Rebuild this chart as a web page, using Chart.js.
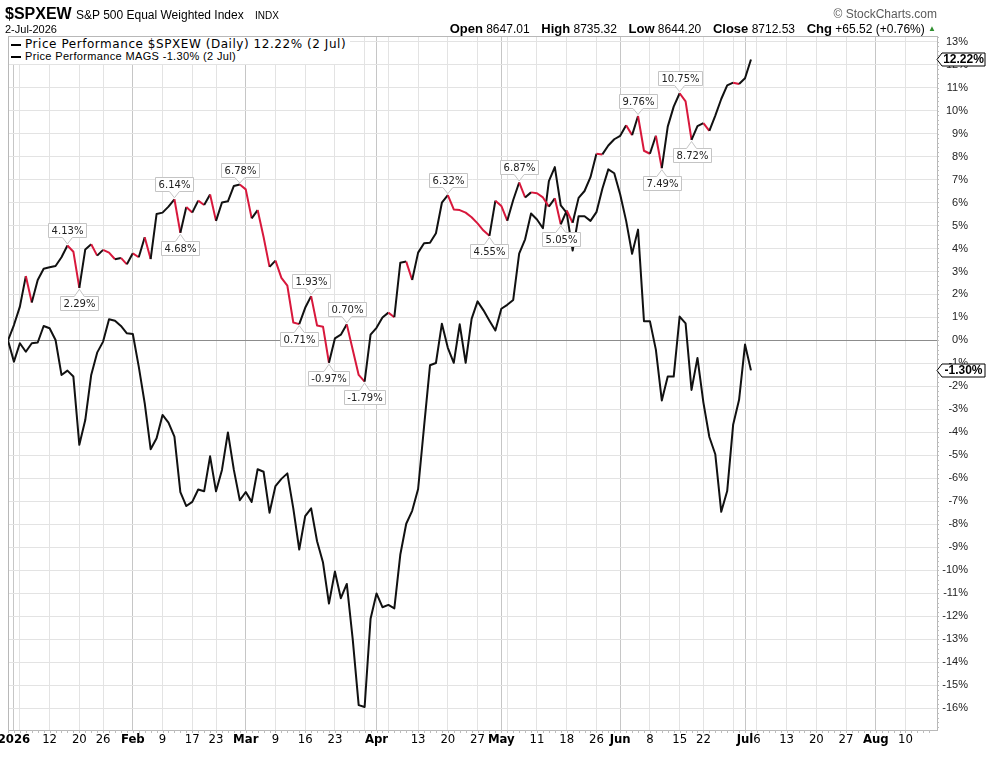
<!DOCTYPE html>
<html lang="en">
  <head>
    <meta charset="utf-8" />
    <title>$SPXEW Price Performance</title>
    <script src="https://cdn.jsdelivr.net/npm/chart.js@4"></script>
    <style>
      body { margin: 0; background: #ffffff; }
      #wrap {
        position: relative;
        width: 988px;
        height: 757px;
        font-family: "Liberation Sans", Arial, sans-serif;
        color: #000;
      }
      #wrap canvas { position: absolute; left: 0; top: 0; }
      .txt { position: absolute; white-space: nowrap; line-height: 1; }
      #symbol { left: 5px; top: 6px; font-size: 16px; font-weight: bold; }
      #name { left: 76px; top: 9px; font-size: 12px; }
      #exch { left: 255px; top: 11px; font-size: 10px; }
      #date { left: 5px; top: 24px; font-size: 11px; }
      #quote { right: 52px; top: 22px; font-size: 12px; }
      #quote b { font-size: 13px; margin-left: 5px; }
      #quote b:first-child { margin-left: 0; }
      #quote .up { color: #2f8f2f; font-size: 8px; vertical-align: 2px; }
      #copy { right: 51px; top: 8px; font-size: 12px; color: #5a5a5a; }
      #legend {
        position: absolute;
        left: 9px;
        top: 37px;
        background: #fff;
        padding: 1px 4px 2px 1px;
      }
      #legend div { white-space: nowrap; line-height: 12px; }
      #legend .dash {
        display: inline-block;
        width: 10px;
        height: 2px;
        background: #000;
        vertical-align: middle;
        margin: 0 4px 0 1px;
      }
      #leg1 { font-family: "DejaVu Sans", Verdana, sans-serif; font-size: 12px; letter-spacing: 0.55px; }
      #leg2 { font-size: 11px; letter-spacing: 0.35px; }
    </style>
  </head>
  <body>
    <div id="wrap">
      <canvas id="perfChart" width="988" height="757"></canvas>
      <div class="txt" id="symbol">$SPXEW</div>
      <div class="txt" id="name">S&amp;P 500 Equal Weighted Index</div>
      <div class="txt" id="exch">INDX</div>
      <div class="txt" id="date">2-Jul-2026</div>
      <div class="txt" id="copy">&copy; StockCharts.com</div>
      <div class="txt" id="quote">
        <b>Open</b> 8647.01 &nbsp;<b>High</b> 8735.32 &nbsp;<b>Low</b> 8644.20 &nbsp;<b>Close</b> 8712.53 &nbsp;<b>Chg</b> +65.52 (+0.76%) <span class="up">&#9650;</span>
      </div>
      <div id="legend">
        <div id="leg1"><span class="dash"></span><span id="leg1txt"></span></div>
        <div id="leg2"><span class="dash"></span><span id="leg2txt"></span></div>
      </div>
    </div>

    <script>
      // market holidays, used to build the trading-day calendar (Dec 31 = day 0)
      const holidays = [
        "2026-01-01", "2026-01-19", "2026-02-16", "2026-04-03",
        "2026-05-25", "2026-06-19", "2026-07-03",
      ];

      // % performance since 31-Dec-2025, one value per trading day up to 2-Jul
      const spxew = [
        0, 0.67, 1.47, 2.80, 1.65, 2.63, 3.12, 3.18, 3.24, 3.62,
        4.13, 3.86, 2.29, 3.96, 4.18, 3.69, 3.94, 3.82, 3.53, 3.59,
        3.31, 3.79, 3.62, 4.49, 3.54, 5.50, 5.56, 5.82, 6.14, 4.68,
        5.80, 5.56, 6.08, 5.89, 6.35, 5.20, 6.00, 6.05, 6.72, 6.78,
        6.57, 5.31, 5.67, 4.50, 3.20, 3.47, 2.72, 2.38, 0.78, 0.71,
        1.42, 1.93, 0.65, 0.60, -0.97, 0.09, 0.25, 0.70, -0.40, -1.50,
        -1.79, 0.25, 0.55, 1.00, 1.21, 1.01, 3.38, 3.43, 2.63, 3.82,
        4.23, 4.25, 4.66, 5.99, 6.32, 5.70, 5.67, 5.56, 5.36, 5.09,
        4.78, 4.55, 6.08, 5.85, 5.21, 6.11, 6.87, 6.22, 6.44, 6.40,
        6.22, 5.82, 6.18, 5.05, 5.65, 5.12, 6.20, 6.50, 7.10, 8.12,
        8.09, 8.48, 8.75, 8.90, 9.36, 8.93, 9.76, 8.25, 8.12, 8.90,
        7.49, 9.30, 10.17, 10.75, 10.40, 8.72, 9.32, 9.45, 9.11, 9.78,
        10.50, 11.09, 11.21, 11.15, 11.40, 12.22,
      ];
      const mags = [
        0, -0.92, -0.12, -0.49, -0.12, -0.09, 0.63, 0.53, 0.02, -1.50,
        -1.31, -1.57, -4.54, -3.46, -1.50, -0.53, -0.05, 0.92, 0.86, 0.63,
        0.31, 0.28, -1.14, -2.73, -4.73, -4.25, -3.24, -3.57, -4.18, -6.60,
        -7.20, -7.02, -6.48, -6.56, -5.04, -6.56, -5.63, -4.00, -5.63, -6.95,
        -6.59, -7.02, -5.60, -5.71, -7.49, -6.33, -6.02, -5.78, -7.30, -9.09,
        -7.64, -7.30, -8.73, -9.66, -11.44, -10.05, -11.21, -10.59, -13.00, -15.86,
        -15.94, -12.10, -11.00, -11.60, -11.50, -11.65, -9.32, -7.97, -7.41, -6.46,
        -3.75, -1.08, -0.98, 0.73, -0.32, -0.97, 0.70, -0.97, 0.94, 1.70,
        1.31, 0.86, 0.43, 1.38, 1.55, 1.76, 3.78, 4.40, 5.52, 5.26,
        4.88, 6.93, 7.54, 5.87, 5.55, 3.91, 5.40, 5.40, 5.20, 5.58,
        6.60, 7.44, 7.27, 6.35, 5.20, 3.77, 4.82, 0.84, 0.84, -0.40,
        -2.61, -1.57, -1.57, 1.04, 0.74, -2.15, -0.76, -2.70, -4.20, -4.95,
        -7.45, -6.55, -3.67, -2.58, -0.18, -1.30,
      ];

      // labelled swing points on the $SPXEW line (trading-day positions)
      const peakDays = [10, 28, 39, 51, 57, 74, 86, 106, 113];
      const troughDays = [12, 29, 49, 54, 60, 81, 93, 110, 115];

      // x-axis grid lines and their labels
      const gridDates = [
        "2026-01-02", "2026-01-05", "2026-01-12", "2026-01-20", "2026-01-26",
        "2026-02-02", "2026-02-09", "2026-02-17", "2026-02-23",
        "2026-03-02", "2026-03-09", "2026-03-16", "2026-03-23", "2026-03-30",
        "2026-04-01", "2026-04-06", "2026-04-13", "2026-04-20", "2026-04-27",
        "2026-05-01", "2026-05-04", "2026-05-11", "2026-05-18", "2026-05-26",
        "2026-06-01", "2026-06-08", "2026-06-15", "2026-06-22", "2026-06-29",
        "2026-07-01", "2026-07-06", "2026-07-13", "2026-07-20", "2026-07-27",
        "2026-08-03", "2026-08-10",
      ];
      const gridLabels = [
        "2026", "", "12", "20", "26",
        "Feb", "9", "17", "23",
        "Mar", "9", "16", "23", "",
        "Apr", "", "13", "20", "27",
        "May", "", "11", "18", "26",
        "Jun", "8", "15", "22", "",
        "Jul", "6", "13", "20", "27",
        "Aug", "10",
      ];
      const monthStarts = [
        "2026-01-02", "2026-02-02", "2026-03-02", "2026-04-01",
        "2026-05-01", "2026-06-01", "2026-07-01", "2026-08-03",
      ];
      const yTicks = [
        -16, -15, -14, -13, -12, -11, -10, -9, -8, -7, -6, -5, -4, -3, -2, -1,
        0, 1, 2, 3, 4, 5, 6, 7, 8, 9, 10, 11, 12, 13,
      ];

      // trading calendar
      const dates = [];
      for (
        let d = new Date(Date.UTC(2025, 11, 31));
        d <= new Date(Date.UTC(2026, 7, 14));
        d.setUTCDate(d.getUTCDate() + 1)
      ) {
        const iso = d.toISOString().slice(0, 10);
        const wd = d.getUTCDay();
        if (wd !== 0 && wd !== 6 && !holidays.includes(iso)) dates.push(iso);
      }
      const gridDays = gridDates.map((s) => dates.indexOf(s));
      const monthDays = monthStarts.map((s) => dates.indexOf(s));

      const downRed = "#d8183c";
      const lineBlack = "#111111";
      const gridLight = "#e3e3e3";
      const gridMonth = "#c6c6c6";
      const frameGray = "#b8b8b8";

      const last = (arr) => arr[arr.length - 1];
      document.getElementById("leg1txt").textContent =
        "Price Performance $SPXEW (Daily) " + last(spxew).toFixed(2) + "% (2 Jul)";
      document.getElementById("leg2txt").textContent =
        "Price Performance MAGS " + last(mags).toFixed(2) + "% (2 Jul)";

      function drawNote(ctx, x, y, text, above) {
        ctx.font = '10px "DejaVu Sans", Verdana, sans-serif';
        const w = Math.round(ctx.measureText(text).width) + 6;
        const h = 14;
        const gap = 8;
        const bx = Math.round(x - w / 2) + 0.5;
        const by = above ? Math.round(y - gap - h) + 0.5 : Math.round(y + gap) + 0.5;
        ctx.beginPath();
        if (above) {
          ctx.moveTo(bx, by);
          ctx.lineTo(bx + w, by);
          ctx.lineTo(bx + w, by + h);
          ctx.lineTo(x + 5, by + h);
          ctx.lineTo(x, y - 1.5);
          ctx.lineTo(x - 5, by + h);
          ctx.lineTo(bx, by + h);
        } else {
          ctx.moveTo(bx, by + h);
          ctx.lineTo(bx + w, by + h);
          ctx.lineTo(bx + w, by);
          ctx.lineTo(x + 5, by);
          ctx.lineTo(x, y + 1.5);
          ctx.lineTo(x - 5, by);
          ctx.lineTo(bx, by);
        }
        ctx.closePath();
        ctx.fillStyle = "#ffffff";
        ctx.fill();
        ctx.strokeStyle = "#c4c4c4";
        ctx.lineWidth = 1;
        ctx.stroke();
        ctx.fillStyle = "#222";
        ctx.textAlign = "center";
        ctx.textBaseline = "middle";
        ctx.fillText(text, bx + w / 2, by + h / 2 + 0.5);
      }

      function drawTag(ctx, x, y, text) {
        const h = 13;
        const w = 48;
        const nose = 5;
        y = Math.round(y) + 0.5;
        ctx.beginPath();
        ctx.moveTo(x, y);
        ctx.lineTo(x + nose, y - h / 2);
        ctx.lineTo(x + w, y - h / 2);
        ctx.lineTo(x + w, y + h / 2);
        ctx.lineTo(x + nose, y + h / 2);
        ctx.closePath();
        ctx.fillStyle = "#ffffff";
        ctx.fill();
        ctx.strokeStyle = "#000";
        ctx.lineWidth = 1;
        ctx.stroke();
        ctx.fillStyle = "#000";
        ctx.font = 'bold 12px "Liberation Sans", Arial, sans-serif';
        ctx.textAlign = "center";
        ctx.textBaseline = "middle";
        ctx.fillText(text, x + nose + (w - nose) / 2, y + 0.5);
      }

      const overlay = {
        id: "overlay",
        beforeDatasetsDraw(chart) {
          const { ctx, chartArea: a, scales } = chart;
          ctx.save();
          ctx.strokeStyle = frameGray;
          ctx.lineWidth = 1;
          ctx.strokeRect(Math.round(a.left) + 0.5, Math.round(a.top) + 0.5,
            Math.round(a.right - a.left), Math.round(a.bottom - a.top));
          // daily ticks under the date axis
          ctx.beginPath();
          dates.forEach((d, i) => {
            const px = Math.round(scales.x.getPixelForValue(i)) + 0.5;
            if (px < a.left || px > a.right) return;
            ctx.moveTo(px, a.bottom);
            ctx.lineTo(px, a.bottom + 3);
          });
          // minor ticks on the price axis
          for (let v = -16.8; v <= 13.2; v += 0.2) {
            const py = Math.round(scales.y.getPixelForValue(v)) + 0.5;
            ctx.moveTo(a.right, py);
            ctx.lineTo(a.right + 2, py);
          }
          ctx.strokeStyle = "#bdbdbd";
          ctx.stroke();
          ctx.restore();
        },
        afterDatasetsDraw(chart) {
          const { ctx, chartArea: a, scales } = chart;
          ctx.save();
          peakDays.forEach((i) => {
            drawNote(ctx, scales.x.getPixelForValue(i), scales.y.getPixelForValue(spxew[i]),
              spxew[i].toFixed(2) + "%", true);
          });
          troughDays.forEach((i) => {
            drawNote(ctx, scales.x.getPixelForValue(i), scales.y.getPixelForValue(spxew[i]),
              spxew[i].toFixed(2) + "%", false);
          });
          drawTag(ctx, a.right, scales.y.getPixelForValue(last(spxew)), last(spxew).toFixed(2) + "%");
          drawTag(ctx, a.right, scales.y.getPixelForValue(last(mags)), last(mags).toFixed(2) + "%");
          ctx.restore();
        },
      };

      const ctx = document.getElementById("perfChart").getContext("2d");
      new Chart(ctx, {
        type: "line",
        data: {
          datasets: [
            {
              label: "Price Performance $SPXEW",
              data: spxew.map((v, i) => ({ x: i, y: v })),
              borderColor: lineBlack,
              borderWidth: 2,
              borderJoinStyle: "round",
              pointRadius: 0,
              tension: 0,
              segment: {
                borderColor: (c) => (c.p1.parsed.y < c.p0.parsed.y ? downRed : lineBlack),
              },
            },
            {
              label: "Price Performance MAGS",
              data: mags.map((v, i) => ({ x: i, y: v })),
              borderColor: lineBlack,
              borderWidth: 2,
              borderJoinStyle: "round",
              pointRadius: 0,
              tension: 0,
            },
          ],
        },
        options: {
          responsive: false,
          animation: false,
          devicePixelRatio: 1,
          layout: { padding: { left: 8, top: 36, right: 20, bottom: 0 } },
          plugins: { legend: { display: false }, tooltip: { enabled: false } },
          scales: {
            x: {
              type: "linear",
              min: 0,
              max: 156.3,
              afterBuildTicks: (s) => {
                s.ticks = gridDays.map((v) => ({ value: v }));
              },
              afterFit: (s) => {
                s.height = 27;
                s.paddingLeft = 0;
                s.paddingRight = 0;
              },
              border: { display: false },
              grid: {
                drawTicks: false,
                color: (c) => (monthDays.includes(c.tick.value) ? gridMonth : gridLight),
              },
              ticks: {
                autoSkip: false,
                maxRotation: 0,
                minRotation: 0,
                padding: 2,
                color: "#000",
                font: (c) => ({
                  family: '"Liberation Sans Narrow", "DejaVu Sans Condensed", Arial, sans-serif',
                  size: 13,
                  weight: c.tick && monthDays.includes(c.tick.value) ? "bold" : "normal",
                }),
                callback: (v, i) => gridLabels[i],
              },
            },
            y: {
              type: "linear",
              position: "right",
              min: -16.94,
              max: 13.24,
              afterBuildTicks: (s) => {
                s.ticks = yTicks.map((v) => ({ value: v }));
              },
              afterFit: (s) => {
                s.width = 31;
                s.paddingTop = 0;
                s.paddingBottom = 0;
              },
              border: { display: false },
              grid: {
                drawTicks: false,
                color: (c) => (c.tick.value === 0 ? "#8c8c8c" : gridLight),
              },
              ticks: {
                crossAlign: "far",
                padding: 4,
                color: "#222",
                font: { family: '"Liberation Sans", Arial, sans-serif', size: 11 },
                callback: (v) => v + "%",
              },
            },
          },
        },
        plugins: [overlay],
      });
    </script>
  </body>
</html>
